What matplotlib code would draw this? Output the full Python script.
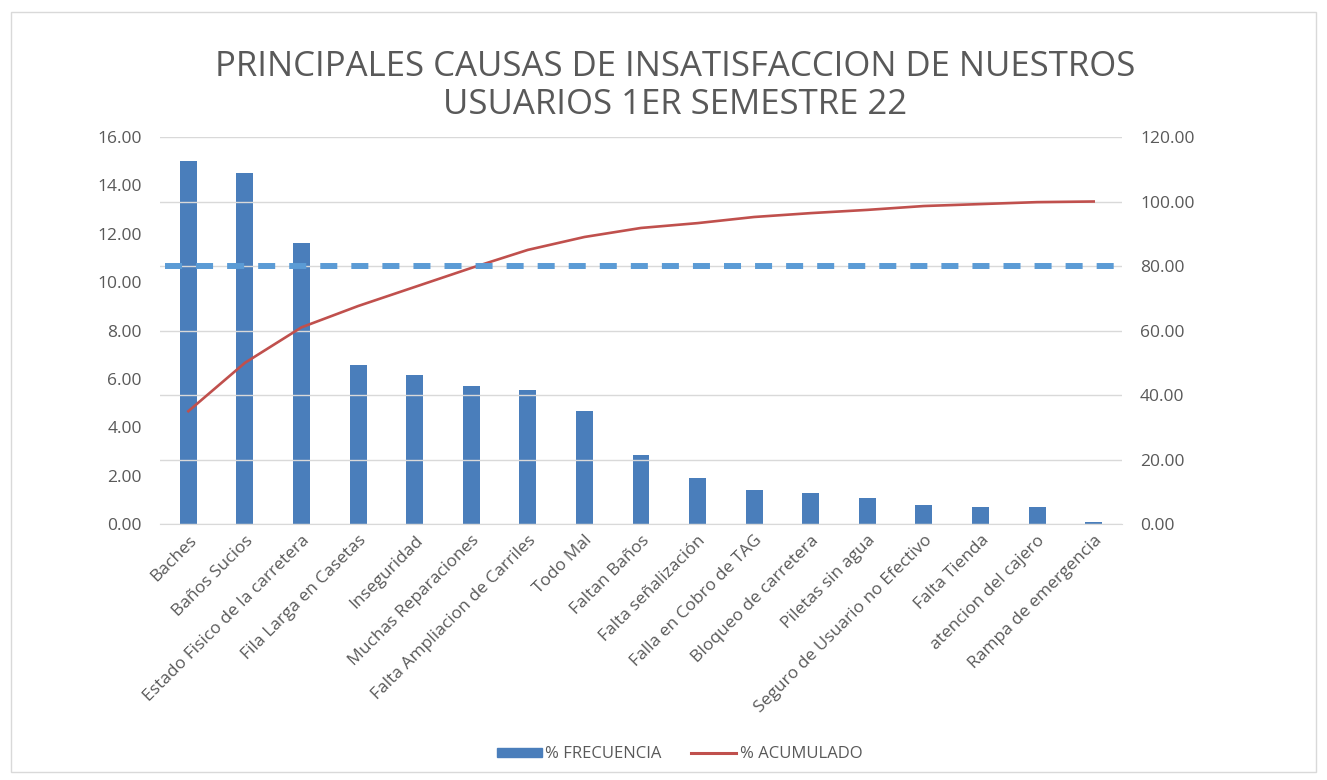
import numpy as np
import matplotlib.pyplot as plt
from matplotlib.patches import Rectangle, Patch
from matplotlib.lines import Line2D

plt.rcParams['font.family'] = ['Open Sans', 'DejaVu Sans']

causas = ["Baches", "Baños Sucios", "Estado Fisico de la carretera",
          "Fila Larga en Casetas", "Inseguridad", "Muchas Reparaciones",
          "Falta Ampliacion de Carriles", "Todo Mal", "Faltan Baños",
          "Falta señalización", "Falla en Cobro de TAG", "Bloqueo de carretera",
          "Piletas sin agua", "Seguro de Usuario no Efectivo", "Falta Tienda",
          "atencion del cajero", "Rampa de emergencia"]
frecuencia = [15.0, 14.5, 11.6, 6.57, 6.16, 5.7, 5.54, 4.67, 2.85,
              1.9, 1.4, 1.28, 1.1, 0.79, 0.7, 0.7, 0.08]
acumulado = [35.0, 50.0, 61.0, 67.6, 73.5, 79.4, 85.0, 89.0, 91.8,
             93.3, 95.2, 96.4, 97.4, 98.6, 99.2, 99.8, 100.0]
meta = 80

gray = '#595959'
fig = plt.figure(figsize=(13.27, 7.8), dpi=100)
# marco del grafico
fig.patches.append(Rectangle((0.008, 0.01), 0.984, 0.975, transform=fig.transFigure,
                             fill=False, edgecolor='#D9D9D9', lw=1))

ax = fig.add_axes([0.1206, 0.328, 0.7249, 0.4964])
ax2 = ax.twinx()

x = np.arange(len(causas))
ax.bar(x, frecuencia, width=0.3, color='#4A7EBB', zorder=2)
ax.set_ylim(0, 16)
ax.set_yticks(np.arange(0, 17, 2))
ax.set_yticklabels([f"{v:.2f}" for v in np.arange(0, 17, 2)])
ax.set_xlim(-0.5, len(causas) - 0.5)
ax.set_xticks(x)
ax.set_xticklabels(causas, rotation=45, ha='right', rotation_mode='anchor',
                   fontsize=12, color=gray)

ax2.plot(x, acumulado, color='#C0504D', lw=1.9, zorder=3)
# linea del 80%
ax2.axhline(meta, xmin=0.005, xmax=1.005, color='#5B9BD5', lw=4.3,
            dashes=(2.85, 2.35), clip_on=False, zorder=4)
ax2.set_ylim(0, 120)
ax2.set_yticks(np.arange(0, 121, 20))
ax2.set_yticklabels([f"{v:.2f}" for v in np.arange(0, 121, 20)])
ax2.grid(axis='y', color='#D9D9D9', lw=1)
ax2.set_axisbelow(True)

for a in (ax, ax2):
    for s in a.spines.values():
        s.set_visible(False)
    a.tick_params(length=0, labelsize=12.5, labelcolor=gray)
ax.spines['bottom'].set_visible(True)
ax.spines['bottom'].set_color('#D9D9D9')
ax.tick_params(axis='y', pad=13)
ax2.tick_params(axis='y', pad=13)
ax.tick_params(axis='x', pad=6)

fig.text(0.509, 0.89, "PRINCIPALES CAUSAS DE INSATISFACCION DE NUESTROS\nUSUARIOS 1ER SEMESTRE 22",
         ha='center', va='center', fontsize=25, color=gray, linespacing=1.15)

handles = [Patch(color='#4A7EBB'), Line2D([0], [0], color='#C0504D', lw=2.2)]
fig.legend(handles, ["% FRECUENCIA", "% ACUMULADO"], loc='center',
           bbox_to_anchor=(0.512, 0.033), ncol=2, frameon=False, fontsize=12,
           labelcolor=gray, handlelength=2.7, handleheight=0.5,
           handletextpad=0.2, columnspacing=1.8)

fig.savefig('out.png', dpi=100)
